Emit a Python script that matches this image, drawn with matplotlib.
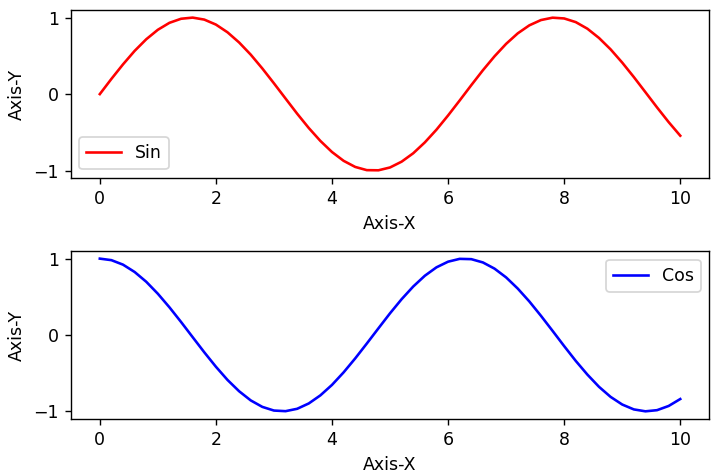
import matplotlib
matplotlib.use("Agg")
import matplotlib.pyplot as plt

x_vals = [0.0, 0.2, 0.4, 0.6, 0.8, 1.0, 1.2, 1.4, 1.6, 1.8, 2.0, 2.2, 2.4, 2.6, 2.8,
          3.0, 3.2, 3.4, 3.6, 3.8, 4.0, 4.2, 4.4, 4.6, 4.8, 5.0, 5.2, 5.4, 5.6, 5.8,
          6.0, 6.2, 6.4, 6.6, 6.8, 7.0, 7.2, 7.4, 7.6, 7.8, 8.0, 8.2, 8.4, 8.6, 8.8,
          9.0, 9.2, 9.4, 9.6, 9.8, 10.0]
sin_vals = [0.000, 0.199, 0.389, 0.565, 0.717, 0.841, 0.932, 0.985, 1.000, 0.974,
            0.909, 0.808, 0.675, 0.516, 0.335, 0.141, -0.058, -0.256, -0.443, -0.612,
            -0.757, -0.872, -0.952, -0.994, -0.996, -0.959, -0.883, -0.773, -0.631, -0.465,
            -0.279, -0.083, 0.117, 0.312, 0.494, 0.657, 0.794, 0.899, 0.968, 0.999,
            0.989, 0.941, 0.855, 0.734, 0.585, 0.412, 0.223, 0.025, -0.174, -0.366, -0.544]
cos_vals = [1.000, 0.980, 0.921, 0.825, 0.697, 0.540, 0.362, 0.170, -0.029, -0.227,
            -0.416, -0.589, -0.737, -0.857, -0.942, -0.990, -0.998, -0.967, -0.897, -0.791,
            -0.654, -0.490, -0.307, -0.112, 0.087, 0.284, 0.469, 0.635, 0.776, 0.886,
            0.960, 0.997, 0.993, 0.950, 0.869, 0.754, 0.608, 0.439, 0.251, 0.054,
            -0.146, -0.340, -0.519, -0.679, -0.811, -0.911, -0.975, -1.000, -0.985, -0.930, -0.839]
y_ticks = [-1, 0, 1]

# reference looks like a default-dpi figure scaled up by ~1.25
fig, (ax1, ax2) = plt.subplots(2, 1, figsize=(5.72, 3.8), dpi=125)
fig.subplots_adjust(left=0.099, right=0.992, top=0.979, bottom=0.118, hspace=0.435)

ax1.plot(x_vals, sin_vals, color='red', label='Sin')
ax1.set_xlabel('Axis-X')
ax1.set_ylabel('Axis-Y')
ax1.set_yticks(y_ticks)
ax1.legend(loc='lower left')

ax2.plot(x_vals, cos_vals, color='blue', label='Cos')
ax2.set_xlabel('Axis-X')
ax2.set_ylabel('Axis-Y')
ax2.set_yticks(y_ticks)
ax2.legend(loc='upper right')

fig.savefig('out.png', dpi=125)
plt.close(fig)
